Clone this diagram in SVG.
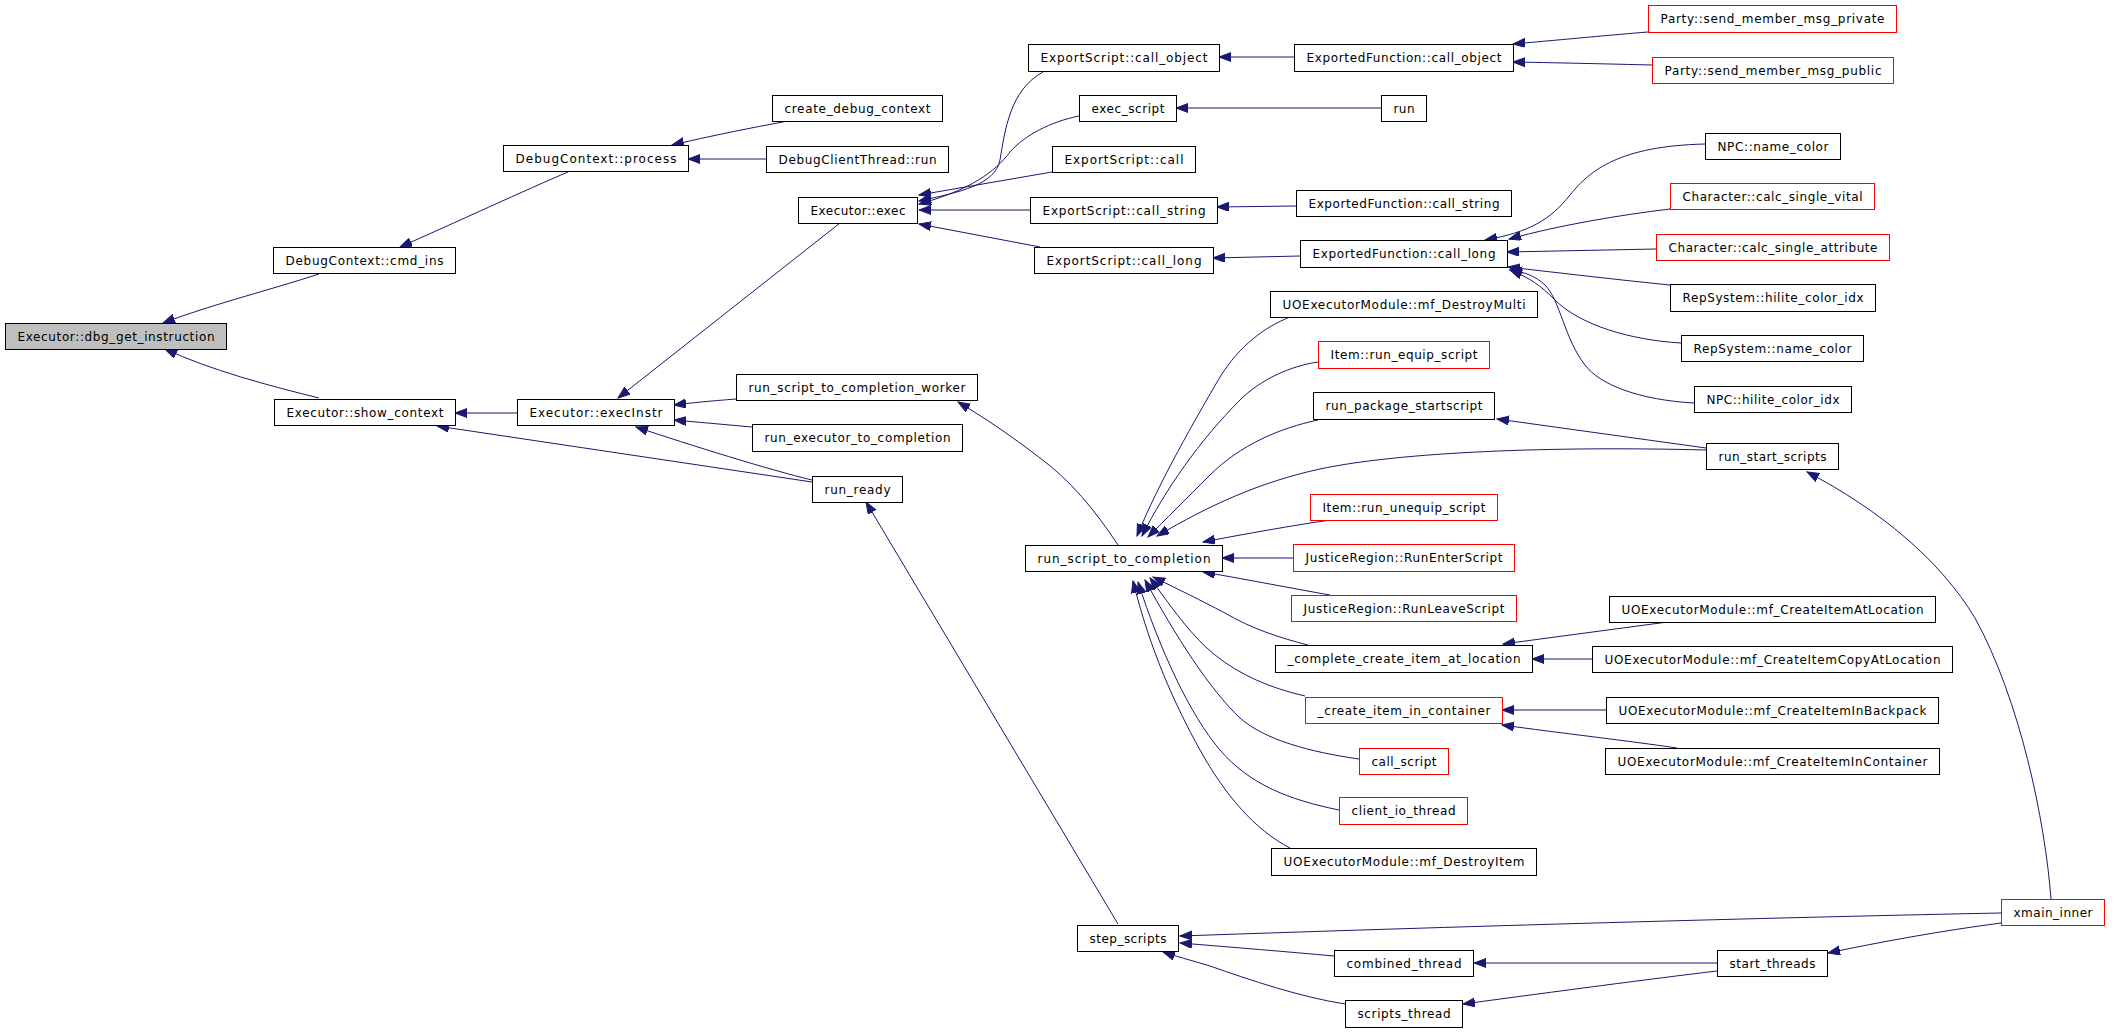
<svg xmlns="http://www.w3.org/2000/svg" width="2117" height="1032" viewBox="0 0 2117 1032">
<style>
.n rect{fill:#ffffff;stroke:#000000;stroke-width:1}
.r rect{stroke:#ff0000}
.g rect{fill:#bfbfbf}
.n text{font-family:"DejaVu Sans",sans-serif;font-size:12px;fill:#000000;text-anchor:middle}
.e path{fill:none;stroke:#191970;stroke-width:1;marker-end:url(#ah)}
</style>
<defs>
<marker id="ah" markerUnits="userSpaceOnUse" markerWidth="13" markerHeight="10" refX="12" refY="4.5" orient="auto" viewBox="0 0 13 10">
<path d="M0,0 L12,4.5 L0,9 Z" fill="#191970" stroke="#191970" stroke-width="1"/>
</marker>
</defs>
<rect x="0" y="0" width="2117" height="1032" fill="#ffffff"/>
<g id="edges" class="e">
<path d="M319,274 C270,290 210,305 163,323"/>
<path d="M319,398 C270,386 210,370 165,349"/>
<path d="M568,172 C530,188 450,225 400,247"/>
<path d="M788,121 C750,128 710,136 672,145"/>
<path d="M766,159 L688,159"/>
<path d="M517,413 L455,413"/>
<path d="M812,482 L437,426"/>
<path d="M840,223 L618,398"/>
<path d="M736,399 C710,401 690,403 674,405"/>
<path d="M752,427 L674,420"/>
<path d="M812,480 C770,470 690,445 636,427"/>
<path d="M1043,72 C1010,90 1005,130 1000,160 C995,185 960,192 919,201"/>
<path d="M1079,116 C1050,122 1025,135 1010,152 C995,172 970,190 919,204"/>
<path d="M1052,172 L919,195"/>
<path d="M1030,210 L919,210"/>
<path d="M1040,247 L919,224"/>
<path d="M1294,57 L1219,57"/>
<path d="M1381,108 L1176,108"/>
<path d="M1296,206 L1217,207"/>
<path d="M1300,256 L1213,258"/>
<path d="M1648,32 C1610,35 1570,39 1513,44"/>
<path d="M1652,65 C1610,64 1570,63 1513,62"/>
<path d="M1705,144 C1620,146 1590,170 1570,195 C1550,220 1530,232 1485,240"/>
<path d="M1670,209 C1620,215 1560,225 1509,239"/>
<path d="M1656,249 L1507,252"/>
<path d="M1670,285 C1620,280 1560,273 1508,267"/>
<path d="M1681,343 C1630,340 1580,325 1555,300 C1540,285 1530,278 1510,270"/>
<path d="M1694,403 C1640,400 1600,385 1585,365 C1565,340 1560,300 1545,285 C1535,276 1525,272 1510,270"/>
<path d="M1290,317 C1265,327 1240,345 1220,377 C1195,420 1160,480 1137,536"/>
<path d="M1318,362 C1290,366 1260,380 1240,400 C1200,440 1165,490 1142,536"/>
<path d="M1318,420 C1280,428 1240,445 1210,475 C1185,500 1165,520 1148,537"/>
<path d="M1706,450 C1550,446 1400,452 1320,469 C1260,482 1210,505 1157,536"/>
<path d="M1330,520 C1290,526 1250,533 1203,542"/>
<path d="M1293,558 L1222,558"/>
<path d="M1330,595 C1290,588 1250,580 1203,572"/>
<path d="M1308,645 C1280,638 1250,628 1225,613 C1200,600 1180,590 1153,577"/>
<path d="M1305,696 C1270,688 1240,675 1215,655 C1190,635 1170,605 1150,578"/>
<path d="M1359,759 C1310,752 1265,740 1240,718 C1210,690 1175,635 1145,580"/>
<path d="M1339,810 C1290,800 1250,785 1220,750 C1190,715 1160,650 1138,582"/>
<path d="M1290,848 C1255,830 1225,795 1200,750 C1175,705 1150,650 1133,581"/>
<path d="M1118,545 C1095,510 1070,480 1040,458 C1010,435 985,418 958,402"/>
<path d="M1706,448 L1497,419"/>
<path d="M2051,899 C2045,820 2020,700 1975,618 C1940,560 1880,510 1807,472"/>
<path d="M1675,621 L1503,644"/>
<path d="M1592,659 L1532,659"/>
<path d="M1606,710 L1502,710"/>
<path d="M1677,748 C1630,741 1560,733 1502,725"/>
<path d="M1118,924 L866,502"/>
<path d="M2001,913 C1800,917 1500,925 1180,936"/>
<path d="M1334,956 C1290,952 1230,947 1180,943"/>
<path d="M1345,1004 C1300,997 1250,980 1210,966 C1190,960 1175,956 1163,952"/>
<path d="M1717,963 L1474,963"/>
<path d="M1717,971 C1650,979 1560,991 1463,1004"/>
<path d="M2001,923 C1940,931 1880,942 1828,953"/>
</g>
<g id="n01" class="n g"><rect x="5.5" y="323.5" width="221" height="26"/><text x="116" y="340.5" textLength="197">Executor::dbg_get_instruction</text></g>
<g id="n02" class="n"><rect x="273.5" y="247.5" width="182" height="26"/><text x="364.5" y="264.5" textLength="158">DebugContext::cmd_ins</text></g>
<g id="n03" class="n"><rect x="503.5" y="145.5" width="185" height="26"/><text x="596" y="162.5" textLength="161">DebugContext::process</text></g>
<g id="n04" class="n"><rect x="772.5" y="95.5" width="170" height="26"/><text x="857.5" y="112.5" textLength="146">create_debug_context</text></g>
<g id="n05" class="n"><rect x="766.5" y="146.5" width="182" height="26"/><text x="857.5" y="163.5" textLength="158">DebugClientThread::run</text></g>
<g id="n06" class="n"><rect x="274.5" y="399.5" width="181" height="26"/><text x="365" y="416.5" textLength="157">Executor::show_context</text></g>
<g id="n07" class="n"><rect x="517.5" y="399.5" width="157" height="26"/><text x="596" y="416.5" textLength="133">Executor::execInstr</text></g>
<g id="n08" class="n"><rect x="798.5" y="197.5" width="119" height="26"/><text x="858" y="214.5" textLength="95">Executor::exec</text></g>
<g id="n09" class="n"><rect x="1028.5" y="44.5" width="191" height="27"/><text x="1124" y="62" textLength="167">ExportScript::call_object</text></g>
<g id="n10" class="n"><rect x="1079.5" y="95.5" width="97" height="26"/><text x="1128" y="112.5" textLength="73">exec_script</text></g>
<g id="n11" class="n"><rect x="1052.5" y="146.5" width="143" height="26"/><text x="1124" y="163.5" textLength="119">ExportScript::call</text></g>
<g id="n12" class="n"><rect x="1030.5" y="197.5" width="187" height="26"/><text x="1124" y="214.5" textLength="163">ExportScript::call_string</text></g>
<g id="n13" class="n"><rect x="1034.5" y="247.5" width="179" height="26"/><text x="1124" y="264.5" textLength="155">ExportScript::call_long</text></g>
<g id="n14" class="n"><rect x="1294.5" y="44.5" width="219" height="27"/><text x="1404" y="62" textLength="195">ExportedFunction::call_object</text></g>
<g id="n15" class="n"><rect x="1381.5" y="95.5" width="45" height="26"/><text x="1404" y="112.5" textLength="21">run</text></g>
<g id="n16" class="n"><rect x="1296.5" y="190.5" width="215" height="26"/><text x="1404" y="207.5" textLength="191">ExportedFunction::call_string</text></g>
<g id="n17" class="n"><rect x="1300.5" y="240.5" width="207" height="27"/><text x="1404" y="258" textLength="183">ExportedFunction::call_long</text></g>
<g id="n18" class="n r"><rect x="1648.5" y="5.5" width="248" height="27"/><text x="1772.5" y="23" textLength="224">Party::send_member_msg_private</text></g>
<g id="n19" class="n r"><rect x="1652.5" y="57.5" width="241" height="26"/><text x="1773" y="74.5" textLength="217">Party::send_member_msg_public</text></g>
<g id="n20" class="n"><rect x="1705.5" y="133.5" width="135" height="26"/><text x="1773" y="150.5" textLength="111">NPC::name_color</text></g>
<g id="n21" class="n r"><rect x="1670.5" y="183.5" width="204" height="26"/><text x="1772.5" y="200.5" textLength="180">Character::calc_single_vital</text></g>
<g id="n22" class="n r"><rect x="1656.5" y="234.5" width="233" height="26"/><text x="1773" y="251.5" textLength="209">Character::calc_single_attribute</text></g>
<g id="n23" class="n"><rect x="1670.5" y="284.5" width="205" height="27"/><text x="1773" y="302" textLength="181">RepSystem::hilite_color_idx</text></g>
<g id="n24" class="n"><rect x="1681.5" y="335.5" width="182" height="26"/><text x="1772.5" y="352.5" textLength="158">RepSystem::name_color</text></g>
<g id="n25" class="n"><rect x="1694.5" y="386.5" width="157" height="26"/><text x="1773" y="403.5" textLength="133">NPC::hilite_color_idx</text></g>
<g id="n26" class="n"><rect x="1270.5" y="291.5" width="267" height="26"/><text x="1404" y="308.5" textLength="243">UOExecutorModule::mf_DestroyMulti</text></g>
<g id="n27" class="n r"><rect x="1318.5" y="341.5" width="171" height="27"/><text x="1404" y="359" textLength="147">Item::run_equip_script</text></g>
<g id="n28" class="n"><rect x="1313.5" y="392.5" width="181" height="27"/><text x="1404" y="410" textLength="157">run_package_startscript</text></g>
<g id="n29" class="n"><rect x="1706.5" y="443.5" width="132" height="26"/><text x="1772.5" y="460.5" textLength="108">run_start_scripts</text></g>
<g id="n30" class="n r"><rect x="1310.5" y="494.5" width="187" height="26"/><text x="1404" y="511.5" textLength="163">Item::run_unequip_script</text></g>
<g id="n31" class="n"><rect x="736.5" y="374.5" width="241" height="26"/><text x="857" y="391.5" textLength="217">run_script_to_completion_worker</text></g>
<g id="n32" class="n"><rect x="752.5" y="424.5" width="210" height="27"/><text x="857.5" y="442" textLength="186">run_executor_to_completion</text></g>
<g id="n33" class="n"><rect x="812.5" y="476.5" width="90" height="26"/><text x="857.5" y="493.5" textLength="66">run_ready</text></g>
<g id="n34" class="n"><rect x="1025.5" y="545.5" width="197" height="26"/><text x="1124" y="562.5" textLength="173">run_script_to_completion</text></g>
<g id="n35" class="n r"><rect x="1293.5" y="544.5" width="221" height="27"/><text x="1404" y="562" textLength="197">JusticeRegion::RunEnterScript</text></g>
<g id="n36" class="n r"><rect x="1291.5" y="595.5" width="225" height="26"/><text x="1404" y="612.5" textLength="201">JusticeRegion::RunLeaveScript</text></g>
<g id="n37" class="n"><rect x="1275.5" y="645.5" width="257" height="27"/><text x="1404" y="663" textLength="233">_complete_create_item_at_location</text></g>
<g id="n38" class="n"><rect x="1609.5" y="596.5" width="326" height="26"/><text x="1772.5" y="613.5" textLength="302">UOExecutorModule::mf_CreateItemAtLocation</text></g>
<g id="n39" class="n"><rect x="1592.5" y="646.5" width="360" height="26"/><text x="1772.5" y="663.5" textLength="336">UOExecutorModule::mf_CreateItemCopyAtLocation</text></g>
<g id="n40" class="n r"><rect x="1305.5" y="697.5" width="197" height="26"/><text x="1404" y="714.5" textLength="173">_create_item_in_container</text></g>
<g id="n41" class="n"><rect x="1606.5" y="697.5" width="332" height="26"/><text x="1772.5" y="714.5" textLength="308">UOExecutorModule::mf_CreateItemInBackpack</text></g>
<g id="n42" class="n"><rect x="1605.5" y="748.5" width="334" height="26"/><text x="1772.5" y="765.5" textLength="310">UOExecutorModule::mf_CreateItemInContainer</text></g>
<g id="n43" class="n r"><rect x="1359.5" y="748.5" width="89" height="26"/><text x="1404" y="765.5" textLength="65">call_script</text></g>
<g id="n44" class="n r"><rect x="1339.5" y="797.5" width="128" height="27"/><text x="1403.5" y="815" textLength="104">client_io_thread</text></g>
<g id="n45" class="n"><rect x="1271.5" y="848.5" width="265" height="27"/><text x="1404" y="866" textLength="241">UOExecutorModule::mf_DestroyItem</text></g>
<g id="n46" class="n"><rect x="1077.5" y="925.5" width="101" height="26"/><text x="1128" y="942.5" textLength="77">step_scripts</text></g>
<g id="n47" class="n"><rect x="1334.5" y="950.5" width="139" height="26"/><text x="1404" y="967.5" textLength="115">combined_thread</text></g>
<g id="n48" class="n"><rect x="1345.5" y="1000.5" width="117" height="27"/><text x="1404" y="1018" textLength="93">scripts_thread</text></g>
<g id="n49" class="n"><rect x="1717.5" y="950.5" width="110" height="26"/><text x="1772.5" y="967.5" textLength="86">start_threads</text></g>
<g id="n50" class="n r"><rect x="2001.5" y="899.5" width="103" height="26"/><text x="2053" y="916.5" textLength="79">xmain_inner</text></g>
</svg>
